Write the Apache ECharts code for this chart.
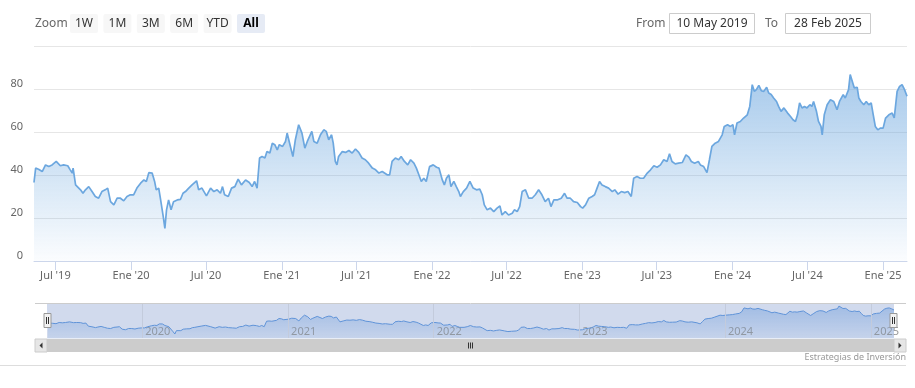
<!DOCTYPE html>
<html><head><meta charset="utf-8">
<script src="https://cdn.jsdelivr.net/npm/echarts@6/dist/echarts.min.js"></script>
<style>html,body{margin:0;padding:0;background:#fff}#c{width:915px;height:388px}</style>
</head><body><div id="c"></div>
<script>
const dates = ['2019-05-10','2019-05-14','2019-05-21','2019-05-30','2019-06-07','2019-06-15','2019-06-23','2019-07-03','2019-07-13','2019-07-21','2019-07-31','2019-08-06','2019-08-11','2019-08-13','2019-08-19','2019-08-23','2019-08-31','2019-09-06','2019-09-12','2019-09-20','2019-09-28','2019-10-06','2019-10-14','2019-10-22','2019-10-30','2019-11-05','2019-11-12','2019-11-20','2019-11-28','2019-12-06','2019-12-14','2019-12-22','2019-12-30',
'2020-01-07','2020-01-15','2020-01-24','2020-02-01','2020-02-07','2020-02-13','2020-02-21','2020-02-27','2020-03-02','2020-03-08','2020-03-12','2020-03-19','2020-03-23','2020-03-27','2020-04-01','2020-04-07','2020-04-13','2020-04-22','2020-04-30','2020-05-06','2020-05-12','2020-05-20','2020-05-28','2020-06-08','2020-06-13','2020-06-21','2020-07-02','2020-07-12','2020-07-20','2020-07-28','2020-08-05','2020-08-10','2020-08-15','2020-08-24','2020-09-01','2020-09-09','2020-09-17','2020-09-25','2020-10-05','2020-10-14','2020-10-21','2020-10-27','2020-11-02','2020-11-08','2020-11-14','2020-11-21','2020-11-26','2020-12-03','2020-12-09','2020-12-15','2020-12-21','2020-12-26',
'2021-01-03','2021-01-10','2021-01-14','2021-01-20','2021-01-24','2021-01-28','2021-02-03','2021-02-11','2021-02-19','2021-02-26','2021-03-04','2021-03-15','2021-03-20','2021-03-28','2021-04-05','2021-04-13','2021-04-19','2021-04-25','2021-05-02','2021-05-06','2021-05-11','2021-05-15','2021-05-19','2021-05-28','2021-06-05','2021-06-13','2021-06-21','2021-06-29','2021-07-07','2021-07-15','2021-07-23','2021-07-31','2021-08-09','2021-08-17','2021-08-25','2021-09-02','2021-09-06','2021-09-14','2021-09-20','2021-09-26','2021-10-04','2021-10-12','2021-10-18','2021-10-26','2021-11-03','2021-11-10','2021-11-18','2021-11-24','2021-11-30','2021-12-06','2021-12-12','2021-12-18','2021-12-26',
'2022-01-04','2022-01-12','2022-01-18','2022-01-26','2022-01-31','2022-02-05','2022-02-11','2022-02-16','2022-02-23','2022-03-01','2022-03-07','2022-03-11','2022-03-18','2022-03-26','2022-04-03','2022-04-11','2022-04-19','2022-04-27','2022-05-03','2022-05-08','2022-05-15','2022-05-23','2022-05-31','2022-06-08','2022-06-15','2022-06-20','2022-06-28','2022-07-06','2022-07-15','2022-07-20','2022-07-27','2022-08-02','2022-08-08','2022-08-16','2022-08-24','2022-09-01','2022-09-09','2022-09-17','2022-09-25','2022-10-03','2022-10-11','2022-10-17','2022-10-24','2022-11-01','2022-11-05','2022-11-11','2022-11-19','2022-11-25','2022-12-03','2022-12-11','2022-12-20','2022-12-28',
'2023-01-02','2023-01-09','2023-01-17','2023-01-25','2023-01-31','2023-02-06','2023-02-12','2023-02-18','2023-02-26','2023-03-06','2023-03-15','2023-03-21','2023-03-29','2023-04-06','2023-04-14','2023-04-22','2023-04-30','2023-05-06','2023-05-14','2023-05-22','2023-05-30','2023-06-08','2023-06-16','2023-06-24','2023-07-02','2023-07-10','2023-07-18','2023-07-26','2023-08-01','2023-08-07','2023-08-15','2023-08-23','2023-09-01','2023-09-10','2023-09-17','2023-09-23','2023-10-01','2023-10-10','2023-10-15','2023-10-23','2023-10-27','2023-10-31','2023-11-06','2023-11-12','2023-11-20','2023-11-28','2023-12-07','2023-12-12','2023-12-20','2023-12-27',
'2024-01-02','2024-01-06','2024-01-12','2024-01-20','2024-01-28','2024-02-06','2024-02-12','2024-02-18','2024-02-23','2024-02-28','2024-03-05','2024-03-11','2024-03-17','2024-03-24','2024-03-29','2024-04-04','2024-04-10','2024-04-17','2024-04-22','2024-04-28','2024-05-05','2024-05-09','2024-05-14','2024-05-21','2024-05-27','2024-06-02','2024-06-07','2024-06-12','2024-06-18','2024-06-24','2024-06-30','2024-07-07','2024-07-12','2024-07-16','2024-07-23','2024-07-28','2024-08-03','2024-08-06','2024-08-11','2024-08-18','2024-08-26','2024-09-03','2024-09-11','2024-09-17','2024-09-26','2024-10-01','2024-10-09','2024-10-13','2024-10-18','2024-10-23','2024-10-30','2024-11-03','2024-11-08','2024-11-15','2024-11-21','2024-11-27','2024-12-03','2024-12-08','2024-12-13','2024-12-19','2024-12-25',
'2025-01-01','2025-01-07','2025-01-15','2025-01-23','2025-01-28','2025-02-04','2025-02-10','2025-02-16','2025-02-22','2025-02-28'];
const values = [36.5,43.2,42.7,41.6,44.7,43.9,44.7,46.3,44.3,44.7,44.3,42.4,40.9,43.2,35.4,34.6,33.1,31.5,33.1,34.6,32.3,30.0,29.2,32.3,33.1,33.9,27.6,26.1,29.2,29.2,28.0,30.0,30.8,
30.8,33.9,36.2,37.7,37.0,41.1,40.9,37.0,33.1,33.9,29.2,20.6,15.2,23.8,28.4,23.8,27.6,28.4,28.7,31.5,32.3,33.9,35.4,37.3,33.1,33.9,30.3,33.9,32.3,33.1,31.5,34.6,30.8,30.0,33.9,34.6,38.1,35.4,37.7,36.5,34.6,37.0,33.9,47.9,48.6,47.9,50.9,50.2,54.8,54.1,51.7,54.1,
53.3,55.6,59.5,54.8,55.6,48.6,56.4,63.4,59.5,52.5,55.6,60.3,55.6,54.8,58.7,61.0,60.3,56.4,58.7,54.8,46.3,44.7,48.6,50.9,50.5,51.4,50.2,52.1,50.5,47.9,47.1,45.5,43.2,42.4,40.9,41.6,40.9,40.1,40.1,46.3,47.9,47.1,48.6,46.3,44.7,47.1,45.5,43.2,40.1,37.0,38.5,37.0,43.9,
44.7,43.6,43.2,37.7,35.4,38.5,40.1,34.6,37.0,34.6,32.3,30.0,32.3,33.9,37.0,33.9,33.1,33.4,30.8,26.1,23.8,24.6,23.0,24.6,25.6,21.4,23.0,21.4,22.2,23.8,23.0,25.3,32.3,33.1,29.2,29.2,30.8,33.1,30.8,27.6,29.2,25.3,28.4,28.4,27.6,29.2,31.5,29.2,29.2,27.6,27.2,25.3,
24.6,26.1,29.2,30.0,30.8,33.9,37.0,35.4,34.6,33.9,32.3,33.1,31.1,32.3,31.8,32.3,30.0,38.5,39.3,38.5,38.5,40.9,42.4,44.3,43.6,44.7,47.1,46.3,49.9,46.3,45.2,45.5,45.8,49.4,48.3,46.3,45.5,46.3,44.7,43.9,43.9,41.1,47.1,53.3,54.8,55.6,58.7,62.6,63.4,62.6,
63.4,58.7,64.2,64.9,66.5,68.0,71.9,82.0,78.9,79.7,81.7,79.2,78.9,80.8,78.1,77.4,75.8,74.2,71.9,69.6,71.2,71.9,68.8,67.2,65.7,64.9,68.0,73.5,71.2,71.9,71.2,72.7,71.9,74.2,69.6,64.9,62.6,58.7,68.0,72.7,75.0,74.2,70.4,74.2,77.4,75.8,79.7,86.7,83.6,80.5,80.8,75.8,74.2,72.7,74.2,72.7,73.5,68.0,62.6,61.0,61.8,
61.8,66.5,68.0,68.8,66.5,78.9,81.2,82.0,79.7,76.6];

const startDate = '2019-05-10';
const endDate = '2025-02-28';
const mainTickDates = ['2019-07-01','2020-01-01','2020-07-01','2021-01-01','2021-07-01','2022-01-01','2022-07-01','2023-01-01','2023-07-01','2024-01-01','2024-07-01','2025-01-01'];
const navTickDates = ['2020-01-01','2021-01-01','2022-01-01','2023-01-01','2024-01-01','2025-01-01'];
const monthLabels = {0: 'Ene', 6: 'Jul'};
const yTicks = [0, 20, 40, 60, 80];
const rangeButtons = ['1W', '1M', '3M', '6M', 'YTD', 'All'];
const selectedButton = 'All';
const fromText = '10 May 2019';
const toText = '28 Feb 2025';
const creditText = 'Estrategias de Inversión';

function ts(s) { const p = s.split('-').map(Number); return Date.UTC(p[0], p[1] - 1, p[2]); }
const seriesData = dates.map((d, i) => [ts(d), values[i]]);
const FONT = '"Noto Sans", "DejaVu Sans", sans-serif';

const chart = echarts.init(document.getElementById('c'), null, {renderer: 'canvas'});

const graphics = [];
graphics.push({type: 'text', x: 35, y: 23.5, style: {text: 'Zoom', font: '12px ' + FONT, fill: '#666', verticalAlign: 'middle'}});
rangeButtons.forEach((b, i) => {
  const x = 70 + i * 33.4;
  const sel = b === selectedButton;
  graphics.push({type: 'rect', shape: {x: x, y: 14, width: 28, height: 19, r: 2}, style: {fill: sel ? '#e6ebf5' : '#f7f7f7'}});
  graphics.push({type: 'text', x: x + 14, y: 23.5, style: {text: b, font: (sel ? 'bold ' : '') + '12px ' + FONT, fill: sel ? '#000' : '#333', align: 'center', verticalAlign: 'middle'}});
});
graphics.push({type: 'text', x: 636, y: 23.5, style: {text: 'From', font: '12px ' + FONT, fill: '#666', verticalAlign: 'middle'}});
graphics.push({type: 'rect', shape: {x: 669.5, y: 13.5, width: 85, height: 20}, style: {fill: '#fff', stroke: '#cccccc', lineWidth: 1}});
graphics.push({type: 'text', x: 712, y: 23.5, style: {text: fromText, font: '12px ' + FONT, fill: '#333', align: 'center', verticalAlign: 'middle'}});
graphics.push({type: 'text', x: 765, y: 23.5, style: {text: 'To', font: '12px ' + FONT, fill: '#666', verticalAlign: 'middle'}});
graphics.push({type: 'rect', shape: {x: 785.5, y: 13.5, width: 85, height: 20}, style: {fill: '#fff', stroke: '#cccccc', lineWidth: 1}});
graphics.push({type: 'text', x: 828, y: 23.5, style: {text: toText, font: '12px ' + FONT, fill: '#333', align: 'center', verticalAlign: 'middle'}});
// navigator
graphics.push({type: 'line', shape: {x1: 35, y1: 303.5, x2: 906, y2: 303.5}, style: {stroke: '#cccccc', lineWidth: 1}});
graphics.push({type: 'rect', shape: {x: 47, y: 304, width: 847, height: 34.5}, style: {fill: 'rgba(102,133,194,0.3)'}, z: -1});
function handle(cx) {
  graphics.push({type: 'rect', z: 100, shape: {x: cx - 3.5, y: 313.5, width: 7, height: 14}, style: {fill: '#f2f2f2', stroke: '#999', lineWidth: 1}});
  graphics.push({type: 'line', z: 101, shape: {x1: cx - 1, y1: 317, x2: cx - 1, y2: 324}, style: {stroke: '#333', lineWidth: 1}});
  graphics.push({type: 'line', z: 101, shape: {x1: cx + 1, y1: 317, x2: cx + 1, y2: 324}, style: {stroke: '#333', lineWidth: 1}});
}
handle(47.5); handle(893.5);
// scrollbar
graphics.push({type: 'rect', shape: {x: 35, y: 339, width: 870, height: 13}, style: {fill: '#f2f2f2'}});
graphics.push({type: 'rect', shape: {x: 47, y: 339, width: 847, height: 13}, style: {fill: '#cccccc'}});
graphics.push({type: 'rect', shape: {x: 35, y: 339, width: 12, height: 13}, style: {fill: '#e6e6e6', stroke: '#cccccc', lineWidth: 1}});
graphics.push({type: 'rect', shape: {x: 894, y: 339, width: 12, height: 13}, style: {fill: '#e6e6e6', stroke: '#cccccc', lineWidth: 1}});
graphics.push({type: 'polygon', shape: {points: [[39.5, 345.5], [42.5, 342.5], [42.5, 348.5]]}, style: {fill: '#333'}});
graphics.push({type: 'polygon', shape: {points: [[901.5, 345.5], [898.5, 342.5], [898.5, 348.5]]}, style: {fill: '#333'}});
[-2, 0, 2].forEach(o => graphics.push({type: 'line', shape: {x1: 470.5 + o, y1: 342.5, x2: 470.5 + o, y2: 348.5}, style: {stroke: '#333', lineWidth: 1}}));
graphics.push({type: 'text', x: 906, y: 357, style: {text: creditText, font: '9px ' + FONT, fill: '#999', align: 'right', verticalAlign: 'middle'}});
graphics.push({type: 'line', shape: {x1: 0, y1: 365.5, x2: 906, y2: 365.5}, style: {stroke: '#dddddd', lineWidth: 1}});

function mainLabel(v) { const d = new Date(v); return monthLabels[d.getUTCMonth()] + " '" + String(d.getUTCFullYear()).slice(2); }

const option = {
  animation: false,
  textStyle: {fontFamily: FONT},
  grid: [
    {left: 34, right: 8, top: 46, bottom: 127},
    {left: 48, right: 21, top: 304, height: 34}
  ],
  xAxis: [
    {type: 'value', gridIndex: 0, min: ts(startDate), max: ts(endDate), scale: true,
     axisLine: {show: true, lineStyle: {color: '#ccd6eb'}},
     axisTick: {show: true, length: 9, customValues: mainTickDates.map(ts), lineStyle: {color: '#ccd6eb'}},
     axisLabel: {customValues: mainTickDates.map(ts), color: '#666', fontSize: 11, margin: 9, fontFamily: FONT, formatter: mainLabel},
     splitLine: {show: false}},
    {type: 'value', gridIndex: 1, min: ts(startDate), max: ts(endDate), scale: true,
     axisLine: {show: false},
     axisTick: {show: false, customValues: navTickDates.map(ts)},
     axisLabel: {customValues: navTickDates.map(ts), inside: true, color: '#999', fontSize: 11, margin: 1, align: 'left', padding: [0, 0, 0, 3], fontFamily: FONT,
       formatter: v => String(new Date(v).getUTCFullYear())},
     splitLine: {show: false}}
  ],
  yAxis: [
    {type: 'value', gridIndex: 0, min: 0, max: 100, interval: 20,
     axisLabel: {color: '#666', fontSize: 11, margin: 11, verticalAlign: 'bottom', fontFamily: FONT,
       formatter: v => yTicks.indexOf(v) >= 0 ? String(v) : ''},
     axisLine: {show: false}, axisTick: {show: false},
     splitLine: {lineStyle: {color: '#e6e6e6'}}},
    {type: 'value', gridIndex: 1, min: 5, max: 92, show: false, splitLine: {show: false}}
  ],
  series: [
    {type: 'line', xAxisIndex: 0, yAxisIndex: 0, data: seriesData, showSymbol: false, z: 3,
     lineStyle: {color: '#6ca7df', width: 1.7},
     areaStyle: {color: new echarts.graphic.LinearGradient(0, 0, 0, 1, [
       {offset: 0, color: 'rgba(107,166,222,0.85)'}, {offset: 1, color: 'rgba(107,166,222,0.04)'}])}},
    {type: 'line', xAxisIndex: 1, yAxisIndex: 1, data: seriesData, showSymbol: false, z: 3,
     lineStyle: {color: '#5f93d8', width: 1},
     areaStyle: {color: new echarts.graphic.LinearGradient(0, 0, 0, 1, [
       {offset: 0, color: 'rgba(95,147,216,0.6)'}, {offset: 1, color: 'rgba(95,147,216,0.15)'}])},
     markLine: {silent: true, symbol: 'none', label: {show: false}, lineStyle: {color: '#c3cbdc', width: 1, type: 'solid'},
       data: navTickDates.map(d => ({xAxis: ts(d)}))}}
  ],
  graphic: {elements: graphics}
};
chart.setOption(option);
</script>
</body></html>
